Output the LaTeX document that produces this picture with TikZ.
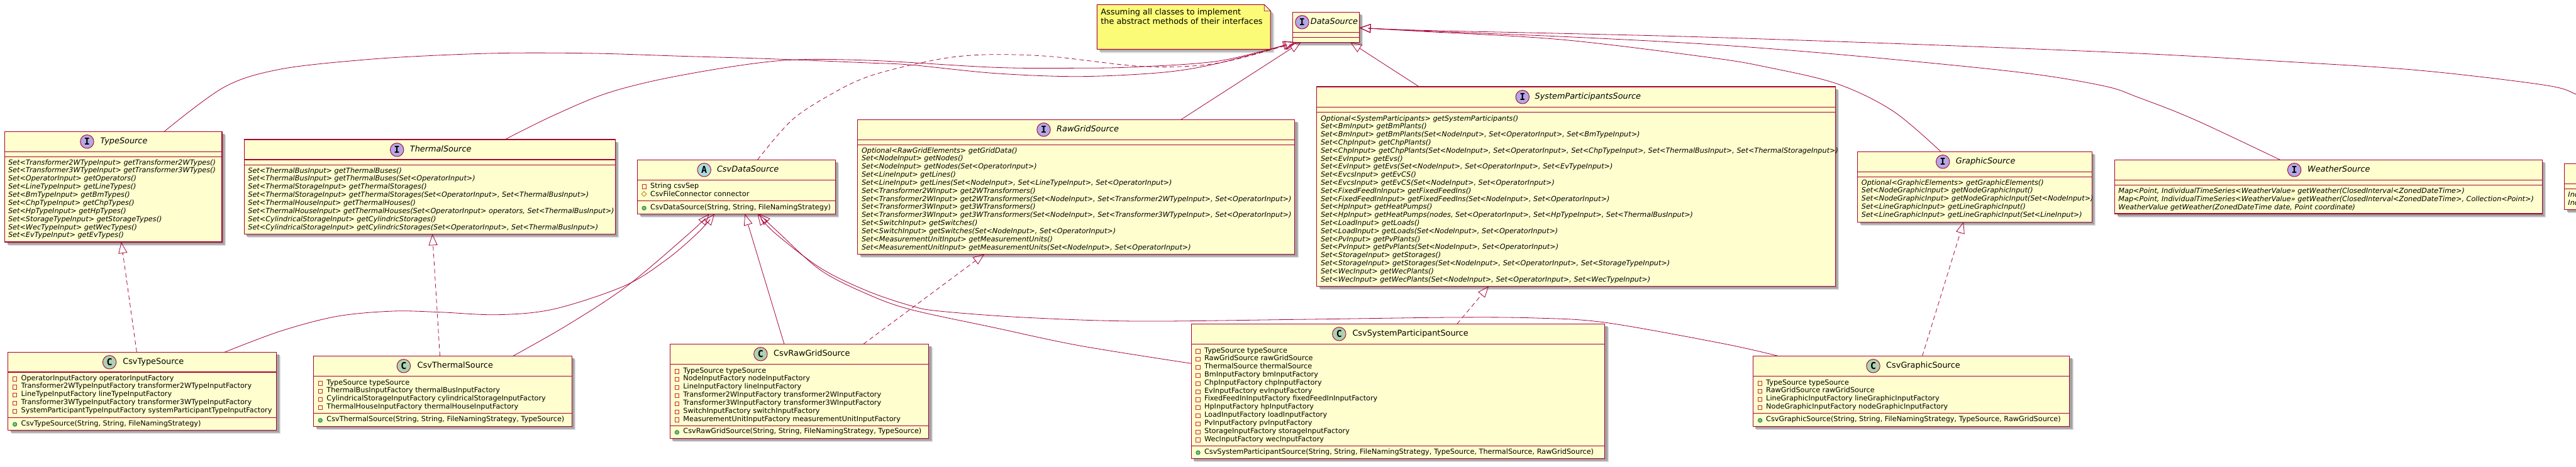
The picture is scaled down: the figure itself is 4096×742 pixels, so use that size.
\documentclass[tikz,border=0pt]{standalone}
\usepackage{fontspec}
\setmainfont{DejaVu Sans}
\newfontfamily\iconfont{DejaVu Sans Mono}
\usetikzlibrary{arrows.meta}
\definecolor{umlred}{HTML}{A80036}
\definecolor{umlfill}{HTML}{FEFECE}
\definecolor{notefill}{HTML}{FBFB77}
\definecolor{iconI}{HTML}{B4A7E5}
\definecolor{iconC}{HTML}{ADD1B2}
\definecolor{iconA}{HTML}{A9DCDF}
\definecolor{privcol}{HTML}{C82930}
\definecolor{protcol}{HTML}{B38D22}
\definecolor{pubcol}{HTML}{038048}
\definecolor{pubfill}{HTML}{84BE84}
\tikzset{
  classnode/.style={draw=umlred,fill=umlfill,line width=1.3pt,inner sep=0pt,outer sep=0pt,anchor=north west},
  sepline/.style={draw=umlred,line width=1.2pt},
  iconnode/.style={circle,draw=umlred,line width=0.9pt,minimum size=21.5pt,inner sep=0pt,font=\iconfont\bfseries\fontsize{15}{15}\selectfont},
  titletext/.style={anchor=mid west,inner sep=0pt,font=\fontsize{12.85}{15}\selectfont},
  memberm/.style={anchor=mid west,inner sep=0pt,font=\itshape\fontsize{11.25}{13}\selectfont},
  memberf/.style={anchor=mid west,inner sep=0pt,font=\fontsize{11.25}{13}\selectfont},
  notetext/.style={anchor=mid west,inner sep=0pt,font=\fontsize{12.85}{15}\selectfont},
  privmark/.style={draw=privcol,line width=0.9pt},
  protmark/.style={draw=protcol,line width=0.9pt},
  pubmark/.style={draw=pubcol,fill=pubfill,line width=0.9pt},
  link/.style={draw=umlred,line width=0.8pt,-{Triangle[open,length=18pt,width=14pt,line width=0.8pt]}},
  real/.style={link,dash pattern=on 7pt off 5pt},
}
\newcommand{\umlbox}[7]{% name x1 y1 x2 y2 sep1 sep2
  \pgfmathsetmacro{\bw}{#4-#2}\pgfmathsetmacro{\bh}{#5-#3}
  \fill[black!14] ({#2+6},{#3+6}) rectangle ({#4+6},{#5+6});
  \fill[black!24] ({#2+5},{#3+5}) rectangle ({#4+5},{#5+5});
  \fill[black!36] ({#2+4},{#3+4}) rectangle ({#4+4},{#5+4});
  \node[classnode,minimum width=\bw pt,minimum height=\bh pt] (#1) at (#2,#3) {};
  \draw[sepline] (#2,#6) -- (#4,#6);
  \draw[sepline] (#2,#7) -- (#4,#7);
}
\newcommand{\umltitle}[7]{% name letter color iconx icony textx, text with font
  \node[iconnode,fill=#3] (#1-icon) at (#4,#5) {#2};
  \node[titletext] (#1-title) at (#6,#5) {#7};
}
\newcommand{\methods}[5]{% prefix x y0 pitch list
  \foreach[count=\i] \t in {#5} {
    \pgfmathsetmacro{\yy}{#3+(\i-1)*#4}
    \node[memberm] (#1-m\i) at (#2,\yy) {\t};
  }
}
\newcommand{\attrs}[6]{% prefix mx x y0 pitch list
  \foreach[count=\i] \t in {#6} {
    \pgfmathsetmacro{\yy}{#4+(\i-1)*#5}
    \node[memberf] (#1-a\i) at (#3,\yy) {\t};
    \draw[privmark] ({#2-3.2},{\yy-2.4}) rectangle ({#2+3.2},{\yy+3.8});
  }
}
\newcommand{\pubm}[5]{% prefix mx x y text
  \node[memberf] (#1-p) at (#3,#4) {#5};
  \draw[pubmark] (#2,{#4+0.8}) circle (3.1pt);
}
\begin{document}
\begin{tikzpicture}[x=1pt,y=-1pt]
\path[use as bounding box,clip] (0,0) rectangle (4096,742);
\fill[white] (0,0) rectangle (4096,742);

% DataSource
\umlbox{DataSource}{2055.6}{19.3}{2161.4}{67.3}{51.3}{59.3}
\umltitle{DataSource}{I}{iconI}{2070.4}{35.3}{2083.7}{\itshape DataSource}

% Note
\fill[black!14] (1750.4,13.3) -- (2016.2,13.3) -- (2026.2,23.3) -- (2026.2,84.3) -- (1750.4,84.3) -- cycle;
\fill[black!30] (1748.4,11.3) -- (2014.2,11.3) -- (2024.2,21.3) -- (2024.2,82.3) -- (1748.4,82.3) -- cycle;
\draw[umlred,fill=notefill,line width=1pt] (1744.4,7.3) -- (2010.2,7.3) -- (2020.2,17.3) -- (2020.2,78.3) -- (1744.4,78.3) -- cycle;
\draw[umlred,fill=umlfill!70!notefill,line width=0.8pt] (2010.2,7.3) -- (2010.2,17.3) -- (2020.2,17.3) -- cycle;
\node[notetext] (note-1) at (1750.2,20.7) {Assuming all classes to implement};
\node[notetext] (note-2) at (1750.2,35.3) {the abstract methods of their interfaces};

% TypeSource
\umlbox{TypeSource}{7.6}{209.3}{353.1}{385}{241.3}{249.3}
\umltitle{TypeSource}{I}{iconI}{138.4}{225.3}{159.4}{\itshape TypeSource}
\methods{TypeSource}{12.9}{259.3}{12.87}{
 Set<Transformer2WTypeInput> getTransformer2WTypes(),
 Set<Transformer3WTypeInput> getTransformer3WTypes(),
 Set<OperatorInput> getOperators(),
 Set<LineTypeInput> getLineTypes(),
 Set<BmTypeInput> getBmTypes(),
 Set<ChpTypeInput> getChpTypes(),
 Set<HpTypeInput> getHpTypes(),
 Set<StorageTypeInput> getStorageTypes(),
 Set<WecTypeInput> getWecTypes(),
 Set<EvTypeInput> getEvTypes()}

% ThermalSource
\umlbox{ThermalSource}{388.4}{222}{978.2}{372.3}{254}{262.7}
\umltitle{ThermalSource}{I}{iconI}{631.2}{238.3}{651.7}{\itshape ThermalSource}
\methods{ThermalSource}{394.2}{272.3}{12.87}{
 Set<ThermalBusInput> getThermalBuses(),
 {Set<ThermalBusInput> getThermalBuses(Set<OperatorInput>)},
 Set<ThermalStorageInput> getThermalStorages(),
 {Set<ThermalStorageInput> getThermalStorages(Set<OperatorInput>, Set<ThermalBusInput>)},
 Set<ThermalHouseInput> getThermalHouses(),
 {Set<ThermalHouseInput> getThermalHouses(Set<OperatorInput> operators, Set<ThermalBusInput>)},
 Set<CylindricalStorageInput> getCylindricStorages(),
 {Set<CylindricalStorageInput> getCylindricStorages(Set<OperatorInput>, Set<ThermalBusInput>)}}

% CsvDataSource
\umlbox{CsvDataSource}{1013.5}{254.3}{1328.2}{340.3}{286.3}{319.3}
\umltitle{CsvDataSource}{A}{iconA}{1119.7}{270.3}{1139.8}{\itshape CsvDataSource}
\node[memberf] (CsvDataSource-a1) at (1034,296.3) {String csvSep};
\draw[privmark] (1021,293.9) rectangle (1027.4,300.1);
\node[memberf] (CsvDataSource-a2) at (1034,309.3) {CsvFileConnector connector};
\draw[protmark] (1024.2,304.6) -- (1028.2,308.6) -- (1024.2,312.6) -- (1020.2,308.6) -- cycle;
\pubm{CsvDataSource}{1024.2}{1034}{330.3}{CsvDataSource(String, String, FileNamingStrategy)}

% RawGridSource
\umlbox{RawGridSource}{1363.6}{190.3}{2058.6}{404.3}{222.3}{230.3}
\umltitle{RawGridSource}{I}{iconI}{1659.5}{206.3}{1680}{\itshape RawGridSource}
\methods{RawGridSource}{1369.8}{240.3}{12.83}{
 Optional<RawGridElements> getGridData(),
 Set<NodeInput> getNodes(),
 {Set<NodeInput> getNodes(Set<OperatorInput>)},
 Set<LineInput> getLines(),
 {Set<LineInput> getLines(Set<NodeInput>, Set<LineTypeInput>, Set<OperatorInput>)},
 Set<Transformer2WInput> get2WTransformers(),
 {Set<Transformer2WInput> get2WTransformers(Set<NodeInput>, Set<Transformer2WTypeInput>, Set<OperatorInput>)},
 Set<Transformer3WInput> get3WTransformers(),
 {Set<Transformer3WInput> get3WTransformers(Set<NodeInput>, Set<Transformer3WTypeInput>, Set<OperatorInput>)},
 Set<SwitchInput> getSwitches(),
 {Set<SwitchInput> getSwitches(Set<NodeInput>, Set<OperatorInput>)},
 Set<MeasurementUnitInput> getMeasurementUnits(),
 {Set<MeasurementUnitInput> getMeasurementUnits(Set<NodeInput>, Set<OperatorInput>)}}

% SystemParticipantsSource
\umlbox{SystemParticipantsSource}{2093.6}{138}{2918.2}{455.3}{170.3}{178.7}
\umltitle{SystemParticipantsSource}{I}{iconI}{2420.8}{154.3}{2440.4}{\itshape SystemParticipantsSource}
\methods{SystemParticipantsSource}{2099.8}{189.3}{12.8}{
 Optional<SystemParticipants> getSystemParticipants(),
 Set<BmInput> getBmPlants(),
 {Set<BmInput> getBmPlants(Set<NodeInput>, Set<OperatorInput>, Set<BmTypeInput>)},
 Set<ChpInput> getChpPlants(),
 {Set<ChpInput> getChpPlants(Set<NodeInput>, Set<OperatorInput>, Set<ChpTypeInput>, Set<ThermalBusInput>, Set<ThermalStorageInput>)},
 Set<EvInput> getEvs(),
 {Set<EvInput> getEvs(Set<NodeInput>, Set<OperatorInput>, Set<EvTypeInput>)},
 Set<EvcsInput> getEvCS(),
 {Set<EvcsInput> getEvCS(Set<NodeInput>, Set<OperatorInput>)},
 Set<FixedFeedInInput> getFixedFeedIns(),
 {Set<FixedFeedInInput> getFixedFeedIns(Set<NodeInput>, Set<OperatorInput>)},
 Set<HpInput> getHeatPumps(),
 {Set<HpInput> getHeatPumps(nodes, Set<OperatorInput>, Set<HpTypeInput>, Set<ThermalBusInput>)},
 Set<LoadInput> getLoads(),
 {Set<LoadInput> getLoads(Set<NodeInput>, Set<OperatorInput>)},
 Set<PvInput> getPvPlants(),
 {Set<PvInput> getPvPlants(Set<NodeInput>, Set<OperatorInput>)},
 Set<StorageInput> getStorages(),
 {Set<StorageInput> getStorages(Set<NodeInput>, Set<OperatorInput>, Set<StorageTypeInput>)},
 Set<WecInput> getWecPlants(),
 {Set<WecInput> getWecPlants(Set<NodeInput>, Set<OperatorInput>, Set<WecTypeInput>)}}

% GraphicSource
\umlbox{GraphicSource}{2953.5}{241.3}{3326.2}{353.3}{273.3}{281.7}
\umltitle{GraphicSource}{I}{iconI}{3089.2}{257.3}{3109.7}{\itshape GraphicSource}
\methods{GraphicSource}{2959.7}{291.3}{12.85}{
 Optional<GraphicElements> getGraphicElements(),
 Set<NodeGraphicInput> getNodeGraphicInput(),
 {Set<NodeGraphicInput> getNodeGraphicInput(Set<NodeInput>)},
 Set<LineGraphicInput> getLineGraphicInput(),
 {Set<LineGraphicInput> getLineGraphicInput(Set<LineInput>)}}

% WeatherSource
\umlbox{WeatherSource}{3362.8}{254.3}{4042.3}{340}{286.3}{294.7}
\umltitle{WeatherSource}{I}{iconI}{3648.1}{270.3}{3669}{\itshape WeatherSource}
\methods{WeatherSource}{3368.2}{304.3}{13}{
 {Map<Point, IndividualTimeSeries<WeatherValue>> getWeather(ClosedInterval<ZonedDateTime>)},
 {Map<Point, IndividualTimeSeries<WeatherValue>> getWeather(ClosedInterval<ZonedDateTime>, Collection<Point>)},
 {WeatherValue getWeather(ZonedDateTime date, Point coordinate)}}

% clipped box at the right edge
\umlbox{RightSource}{4077.8}{260.3}{4400}{333.3}{292.3}{300.7}
\methods{RightSource}{4083.2}{310.3}{13}{Ind,Ind}

% CsvTypeSource
\umlbox{CsvTypeSource}{12.5}{560.3}{439.7}{684.3}{592}{664.3}
\umltitle{CsvTypeSource}{C}{iconC}{174.1}{576.3}{195.1}{CsvTypeSource}
\attrs{CsvTypeSource}{23.7}{33.5}{602.3}{12.85}{
 OperatorInputFactory operatorInputFactory,
 Transformer2WTypeInputFactory transformer2WTypeInputFactory,
 LineTypeInputFactory lineTypeInputFactory,
 Transformer3WTypeInputFactory transformer3WTypeInputFactory,
 SystemParticipantTypeInputFactory systemParticipantTypeInputFactory}
\pubm{CsvTypeSource}{23.7}{33.5}{674.3}{CsvTypeSource(String, String, FileNamingStrategy)}

% CsvThermalSource
\umlbox{CsvThermalSource}{498.6}{566.3}{909.4}{678.3}{598.3}{657.3}
\umltitle{CsvThermalSource}{C}{iconC}{641.9}{582.3}{663.4}{CsvThermalSource}
\attrs{CsvThermalSource}{509.3}{519.2}{609.3}{12.7}{
 TypeSource typeSource,
 ThermalBusInputFactory thermalBusInputFactory,
 CylindricalStorageInputFactory cylindricalStorageInputFactory,
 ThermalHouseInputFactory thermalHouseInputFactory}
\pubm{CsvThermalSource}{509.3}{519.2}{668}{CsvThermalSource(String, String, FileNamingStrategy, TypeSource)}

% CsvRawGridSource
\umlbox{CsvRawGridSource}{1065.2}{547.3}{1476.5}{697.3}{579.3}{677.3}
\umltitle{CsvRawGridSource}{C}{iconC}{1209.4}{563.3}{1230}{CsvRawGridSource}
\attrs{CsvRawGridSource}{1076.4}{1086.2}{590.3}{12.83}{
 TypeSource typeSource,
 NodeInputFactory nodeInputFactory,
 LineInputFactory lineInputFactory,
 Transformer2WInputFactory transformer2WInputFactory,
 Transformer3WInputFactory transformer3WInputFactory,
 SwitchInputFactory switchInputFactory,
 MeasurementUnitInputFactory measurementUnitInputFactory}
\pubm{CsvRawGridSource}{1076.4}{1086.2}{687}{CsvRawGridSource(String, String, FileNamingStrategy, TypeSource)}

% CsvSystemParticipantSource
\umlbox{CsvSystemParticipantSource}{1894.3}{515.3}{2551.6}{729.3}{547.3}{709.3}
\umltitle{CsvSystemParticipantSource}{C}{iconC}{2129.3}{531.3}{2150.3}{CsvSystemParticipantSource}
\attrs{CsvSystemParticipantSource}{1905}{1914.9}{558.3}{12.82}{
 TypeSource typeSource,
 RawGridSource rawGridSource,
 ThermalSource thermalSource,
 BmInputFactory bmInputFactory,
 ChpInputFactory chpInputFactory,
 EvInputFactory evInputFactory,
 FixedFeedInInputFactory fixedFeedInInputFactory,
 HpInputFactory hpInputFactory,
 LoadInputFactory loadInputFactory,
 PvInputFactory pvInputFactory,
 StorageInputFactory storageInputFactory,
 WecInputFactory wecInputFactory}
\pubm{CsvSystemParticipantSource}{1905}{1914.9}{719.3}{CsvSystemParticipantSource(String, String, FileNamingStrategy, TypeSource, ThermalSource, RawGridSource)}

% CsvGraphicSource
\umlbox{CsvGraphicSource}{2787.4}{566.3}{3290.5}{678.3}{598.3}{657.3}
\umltitle{CsvGraphicSource}{C}{iconC}{2978.5}{582.3}{2999}{CsvGraphicSource}
\attrs{CsvGraphicSource}{2798.6}{2808}{609.3}{12.7}{
 TypeSource typeSource,
 RawGridSource rawGridSource,
 LineGraphicInputFactory lineGraphicInputFactory,
 NodeGraphicInputFactory nodeGraphicInputFactory}
\pubm{CsvGraphicSource}{2798.6}{2808}{668}{CsvGraphicSource(String, String, FileNamingStrategy, TypeSource, RawGridSource)}

% connectors to DataSource
\coordinate (ts) at ([xshift=253.5pt]TypeSource.north west);
\coordinate (te) at ([xshift=4.4pt]DataSource.south west);
\draw[link] plot[smooth,tension=0.55] coordinates {(ts) (357,138.3) (446.4,110) (580,95) (700,87.8) (814,84.3) (948,85) (1082,89.3) (1215.7,93.3) (1380,100) (1449,103.3) (1583,116.7) (1717,121.7) (1851,115) (1940,100) (te)};

\coordinate (ths) at ([xshift=414.4pt]ThermalSource.north west);
\coordinate (the) at ([xshift=2.4pt]DataSource.south west);
\draw[link] plot[smooth,tension=0.55] coordinates {(ths) (880.9,183.3) (970,146.7) (1081.8,120) (1238,96.7) (1380,96) (1583,107.3) (1717,108.3) (1806,106.5) (1940,96.7) (the)};

\coordinate (ds) at ([xshift=191pt]CsvDataSource.north west);
\coordinate (de) at ([xshift=6.4pt]DataSource.south west);
\draw[real] plot[smooth,tension=0.55] coordinates {(ds) (1260.3,190) (1327.3,146.7) (1380,122) (1449,103.3) (1516,90.7) (1583,86.7) (1672.5,90) (1806.4,105) (1895.7,105) (1962.6,95) (de)};

\draw[link] ([xshift=514.2pt]RawGridSource.north west) -- ([xshift=13pt]DataSource.south west);
\draw[link] ([xshift=162.9pt]SystemParticipantsSource.north west) -- ([xshift=91.4pt]DataSource.south west);

\coordinate (gs) at ([xshift=132.5pt]GraphicSource.north west);
\coordinate (dr) at ([yshift=-25pt]DataSource.north east);
\draw[link] plot[smooth,tension=0.55] coordinates {(gs) (3010,176.7) (2921,133.3) (2809,106.7) (2720,91.7) (2486,63.3) (2263,50) (dr)};

\coordinate (ws) at ([xshift=262.7pt]WeatherSource.north west);
\draw[link] plot[smooth,tension=0.55] coordinates {(ws) (3488.8,190) (3400,155) (3345,136.7) (3211,115) (2943,88.3) (2720,70.7) (2486,58.3) (2263,49.3) (dr)};

\coordinate (rs) at ([xshift=100pt]RightSource.north west);
\draw[link] plot[smooth,tension=0.55] coordinates {(rs) (4125,168) (4096,150) (4043.7,135) (3843.9,111.7) (3622,97.3) (3400,85) (3077,71.7) (2720,59.3) (2486,53.3) (2263,48.3) (dr)};

% realizations
\draw[real] ([xshift=204.9pt]CsvTypeSource.north west) -- ([xshift=185.2pt]TypeSource.south west);
\draw[real] ([xshift=200.9pt]CsvThermalSource.north west) -- ([xshift=299.1pt]ThermalSource.south west);
\draw[real] ([xshift=307.8pt]CsvRawGridSource.north west) -- ([xshift=201.7pt]RawGridSource.south west);
\draw[real] ([xshift=422.5pt]CsvSystemParticipantSource.north west) -- ([xshift=273.6pt]SystemParticipantsSource.south west);
\draw[real] ([xshift=269.2pt]CsvGraphicSource.north west) -- ([xshift=168.7pt]GraphicSource.south west);

% connectors to CsvDataSource
\coordinate (c1s) at ([xshift=344.6pt]CsvTypeSource.north west);
\coordinate (c1e) at ([xshift=122.7pt]CsvDataSource.south west);
\draw[link] plot[smooth,tension=0.55] coordinates {(c1s) (446.4,526.7) (535.7,503.3) (625,495) (700,496.7) (791.6,500.7) (880.9,491.7) (992.5,455) (1059.4,413.3) (1110,370) (c1e)};

\coordinate (c2s) at ([xshift=317.4pt]CsvThermalSource.north west);
\coordinate (c2e) at ([xshift=114.2pt]CsvDataSource.south west);
\draw[link] plot[smooth,tension=0.55] coordinates {(c2s) (903,516.7) (997,455) (1097.4,370) (c2e)};

\draw[link] ([xshift=181.7pt]CsvRawGridSource.north west) -- ([xshift=170.9pt]CsvDataSource.south west);

\coordinate (c4s) at ([yshift=-63pt]CsvSystemParticipantSource.north west);
\coordinate (c4e) at ([xshift=193.3pt]CsvDataSource.south west);
\draw[link] plot[smooth,tension=0.55] coordinates {(c4s) (1717,550) (1583,521.7) (1449,492.7) (1380,468.3) (1305,430) (1238,370) (c4e)};

\coordinate (c5s) at ([xshift=39.6pt]CsvGraphicSource.north west);
\coordinate (c5e) at ([xshift=191pt]CsvDataSource.south west);
\draw[link] plot[smooth,tension=0.55] coordinates {(c5s) (2740,546.7) (2553.4,513.3) (2441.8,506) (2307.8,505) (2060,508.3) (1806.4,511) (1627.8,505) (1493.9,495) (1449.3,486.7) (1380,463.3) (1305,426.7) (1231.3,370) (c5e)};
\end{tikzpicture}
\end{document}
